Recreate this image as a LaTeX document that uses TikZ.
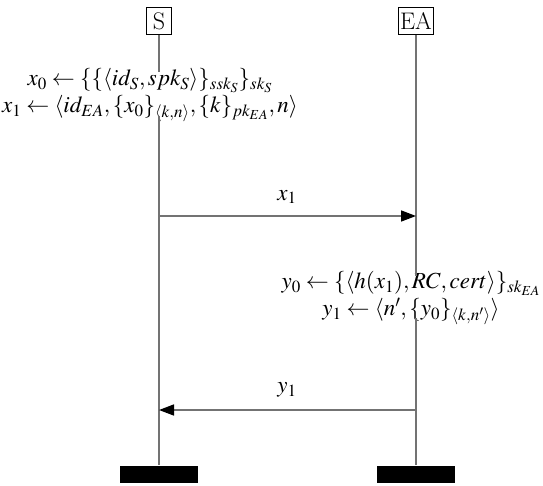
\documentclass[tikz,border=0pt]{standalone}
\usepackage{mathptmx}
\usetikzlibrary{arrows.meta}
\tikzset{
  px/.style={x=1pt,y=-1pt},
  headbox/.style={draw=black,line width=0.9pt,fill=white,inner sep=2pt,minimum height=27pt,minimum width=25pt,font=\fontsize{24}{28}\selectfont},
  endbar/.style={fill=black,minimum width=78pt,minimum height=17pt,inner sep=0pt},
  lifeline/.style={draw=black!55,line width=1.6pt},
  msg/.style={draw=black!55,line width=1.6pt,-{Triangle[length=15pt,width=11pt,fill=black,color=black]}},
  action/.style={align=center,inner sep=0pt,font=\fontsize{23}{27}\selectfont},
  lbl/.style={inner sep=0pt,font=\fontsize{23}{27}\selectfont}
}
\begin{document}
\begin{tikzpicture}[px]
\useasboundingbox (0,0) rectangle (543,486);
\node[headbox] (S) at (159,21) {S};
\node[headbox] (EA) at (416,21) {EA};
\node[action] (xa) at (150,95) {$x_0 \leftarrow \{\{\langle id_S, spk_S\rangle\}_{ssk_S}\}_{sk_S}$\\
$x_1 \leftarrow \langle id_{EA}, \{x_0\}_{\langle k,n\rangle}, \{k\}_{pk_{EA}}, n\rangle$};
\node[action] (ya) at (411,298) {$y_0 \leftarrow \{\langle h(x_1), RC, cert\rangle\}_{sk_{EA}}$\\
$y_1 \leftarrow \langle n', \{y_0\}_{\langle k,n'\rangle}\rangle$};
\node[endbar] (Se) at (159,474) {};
\node[endbar] (EAe) at (416,474) {};
\coordinate (s1) at (159,216);
\coordinate (e1) at (416,216);
\coordinate (s2) at (159,410);
\coordinate (e2) at (416,410);
\path[lifeline] (S.south) -- ([yshift=-4pt]S.south |- xa.north);
\path[lifeline] ([yshift=6pt]S.south |- xa.south) -- (Se.north);
\path[lifeline] (EA.south) -- ([yshift=-5pt]EA.south |- ya.north);
\path[lifeline] ([yshift=7pt]EA.south |- ya.south) -- (EAe.north);
\path[msg] (s1) -- (e1);
\path[msg] (e2) -- (s2);
\node[lbl] (l1) at (287,197) {$x_1$};
\node[lbl] (l2) at (287,390) {$y_1$};
\end{tikzpicture}
\end{document}
